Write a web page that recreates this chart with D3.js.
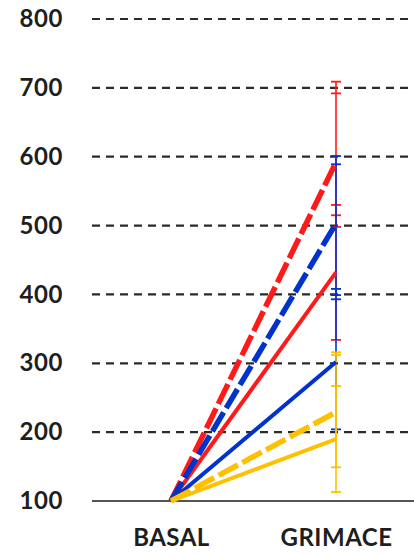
<!DOCTYPE html>
<html><head><meta charset="utf-8">
<script src="https://cdn.jsdelivr.net/npm/d3@7"></script>
<style>html,body{margin:0;padding:0;background:#fff;}svg{display:block;}</style>
</head><body>
<svg id="chart" width="414" height="557"></svg>
<script>
const categories = ["BASAL", "GRIMACE"];
const yTicks = [100, 200, 300, 400, 500, 600, 700, 800];
const seriesNames = ["redDashed", "redSolid", "blueDashed", "blueSolid", "yellowDashed", "yellowSolid"];
const seriesColors = ["#ff1a1a", "#ff1a1a", "#0033cc", "#0033cc", "#ffc000", "#ffc000"];
const seriesDashed = [true, false, true, false, true, false];
const basalValues = [100, 100, 100, 100, 100, 100];
const grimaceValues = [592, 432, 503, 302, 229, 190];
const errorCaps = [
  [498, 692, 709],
  [334, 515, 530],
  [399, 589, 601],
  [204, 393, 408],
  [149, 312, 316],
  [113, 267]
];

const svg = d3.select("#chart");
const x = d3.scalePoint().domain(categories).range([171, 336]);
const y = d3.scaleLinear().domain([100, 800]).range([501, 19]);

// gridlines
svg.append("g").selectAll("line").data(yTicks.filter(t => t > 100)).join("line")
  .attr("x1", 92).attr("x2", 414)
  .attr("y1", d => y(d)).attr("y2", d => y(d))
  .attr("stroke", "#2a2a2a").attr("stroke-width", 2.2)
  .attr("stroke-dasharray", "8,6");

// baseline
svg.append("line").attr("x1", 92).attr("x2", 414)
  .attr("y1", y(100)).attr("y2", y(100))
  .attr("stroke", "#555").attr("stroke-width", 2.2);

const fontFam = "Lato, 'Open Sans', sans-serif";

// y axis labels
const yAxis = d3.axisLeft(y).tickValues(yTicks).tickSize(0).tickPadding(0);
const gy = svg.append("g").attr("transform", "translate(63,0)").call(yAxis);
gy.select(".domain").remove();
gy.selectAll("text").attr("font-family", fontFam)
  .attr("font-weight", "bold").attr("font-size", 24).attr("fill", "#1e1e1e")
  .attr("letter-spacing", 0.6);

// x labels
const xAxis = d3.axisBottom(x).tickSize(0).tickPadding(0);
const gx = svg.append("g").attr("transform", "translate(0,529)").call(xAxis);
gx.select(".domain").remove();
gx.selectAll("text").attr("font-family", fontFam)
  .attr("font-weight", "bold").attr("font-size", 24).attr("fill", "#1e1e1e")
  .attr("letter-spacing", 0.5)
  .attr("dy", "0.71em");

// error bars (red, blue, yellow order)
const eb = svg.append("g");
errorCaps.forEach((caps, i) => {
  const g = eb.append("g");
  g.append("line").attr("x1", x("GRIMACE")).attr("x2", x("GRIMACE"))
    .attr("y1", y(d3.min(caps))).attr("y2", y(d3.max(caps)))
    .attr("stroke", seriesColors[i]).attr("stroke-width", 1.6);
  g.selectAll("line.cap").data(caps).join("line").attr("class", "cap")
    .attr("x1", x("GRIMACE") - 5).attr("x2", x("GRIMACE") + 5)
    .attr("y1", d => y(d)).attr("y2", d => y(d))
    .attr("stroke", seriesColors[i]).attr("stroke-width", 1.8);
});

// lines
const line = d3.line().x(d => x(d.c)).y(d => y(d.v));
const lg = svg.append("g");
seriesNames.forEach((name, i) => {
  const pts = [{c: "BASAL", v: basalValues[i]}, {c: "GRIMACE", v: grimaceValues[i]}];
  lg.append("path").datum(pts).attr("d", line)
    .attr("fill", "none").attr("stroke", seriesColors[i])
    .attr("stroke-width", seriesDashed[i] ? 5.5 : 4)
    .attr("stroke-dasharray", seriesDashed[i] ? "22,5" : null)
    .attr("stroke-linecap", "butt");
});
</script>
</body></html>
